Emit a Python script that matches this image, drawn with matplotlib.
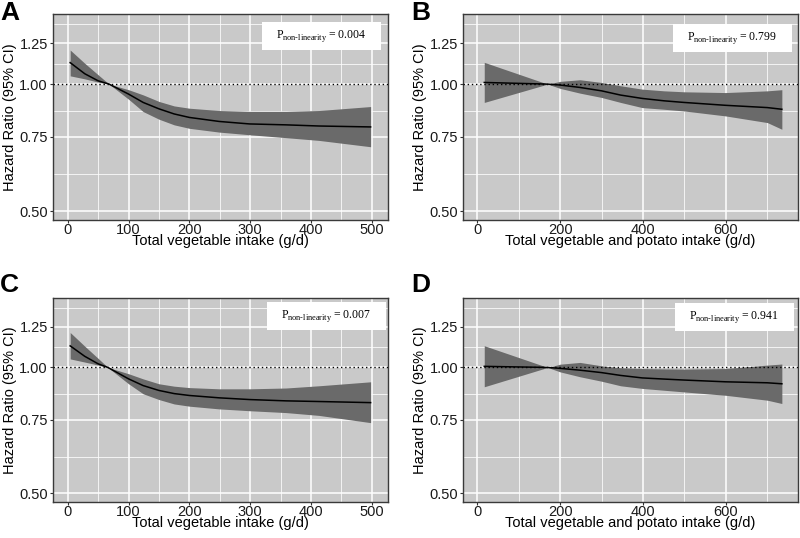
import numpy as np
import matplotlib.pyplot as plt
from matplotlib.patches import Rectangle
from matplotlib.ticker import FixedLocator, NullFormatter

plt.rcParams['font.family'] = ['Liberation Sans', 'DejaVu Sans']
plt.rcParams['mathtext.fontset'] = 'custom'
plt.rcParams['mathtext.rm'] = 'Liberation Serif'

# panel A: total vegetable intake
veg_x = [4, 28, 50, 68, 100, 124, 150, 175, 200, 249, 299, 359, 413, 498]
a_hr = [1.124, 1.058, 1.018, 1.0, 0.947, 0.905, 0.874, 0.850, 0.834, 0.816, 0.805, 0.801, 0.796, 0.792]
a_hi = [1.204, 1.12, 1.052, 1.0, 0.970, 0.943, 0.910, 0.888, 0.877, 0.866, 0.862, 0.862, 0.866, 0.885]
a_lo = [1.046, 1.029, 1.011, 1.0, 0.921, 0.861, 0.826, 0.801, 0.786, 0.770, 0.759, 0.747, 0.736, 0.711]

# panel C: total vegetable intake (second model)
veg_x2 = [4, 28, 50, 66, 100, 124, 150, 175, 200, 249, 299, 359, 413, 498]
c_hr = [1.126, 1.063, 1.020, 1.0, 0.939, 0.905, 0.881, 0.866, 0.857, 0.846, 0.838, 0.832, 0.829, 0.824]
c_hi = [1.212, 1.124, 1.051, 1.0, 0.966, 0.939, 0.914, 0.902, 0.895, 0.889, 0.889, 0.893, 0.904, 0.924]
c_lo = [1.048, 1.030, 1.013, 1.0, 0.914, 0.865, 0.838, 0.818, 0.808, 0.796, 0.788, 0.780, 0.768, 0.738]

# panel B: vegetable and potato intake
pot_x = [17, 170, 200, 248, 300, 346, 398, 451, 499, 599, 700, 735]
b_hr = [1.009, 1.0, 0.995, 0.982, 0.964, 0.942, 0.925, 0.913, 0.905, 0.891, 0.880, 0.872]
b_hi = [1.126, 1.0, 1.015, 1.024, 1.009, 0.991, 0.973, 0.964, 0.959, 0.955, 0.964, 0.970]
b_lo = [0.905, 1.0, 0.977, 0.952, 0.930, 0.905, 0.880, 0.872, 0.864, 0.841, 0.811, 0.782]

# panel D: vegetable and potato intake (second model)
d_hr = [1.006, 1.0, 0.995, 0.985, 0.972, 0.957, 0.944, 0.938, 0.933, 0.924, 0.919, 0.914]
d_hi = [1.127, 1.0, 1.018, 1.028, 1.009, 0.998, 0.994, 0.992, 0.991, 0.994, 1.013, 1.019]
d_lo = [0.899, 1.0, 0.976, 0.950, 0.927, 0.904, 0.891, 0.882, 0.874, 0.858, 0.835, 0.820]

panels = [
    ("A", veg_x, a_hr, a_hi, a_lo, "0.004", "Total vegetable intake (g/d)"),
    ("B", pot_x, b_hr, b_hi, b_lo, "0.799", "Total vegetable and potato intake (g/d)"),
    ("C", veg_x2, c_hr, c_hi, c_lo, "0.007", "Total vegetable intake (g/d)"),
    ("D", pot_x, d_hr, d_hi, d_lo, "0.941", "Total vegetable and potato intake (g/d)"),
]

# axes boxes in figure fraction (left, bottom, width, height)
boxes = [
    (0.066, 0.591, 0.419, 0.383),
    (0.579, 0.591, 0.418, 0.383),
    (0.066, 0.067, 0.419, 0.379),
    (0.579, 0.067, 0.418, 0.379),
]
label_pos = [(0.0, 0.999), (0.514, 0.999), (0.0, 0.493), (0.514, 0.493)]
pbox_center = [(0.801, 0.893), (0.805, 0.883), (0.816, 0.914), (0.81, 0.907)]

fig = plt.figure(figsize=(8, 5.38), dpi=100)

for i, (letter, x, hr, hi, lo, pval, xlab) in enumerate(panels):
    ax = fig.add_axes(boxes[i])
    ax.set_facecolor('#c9c9c9')
    ax.set_yscale('log')

    if letter in ("A", "C"):
        ax.set_xlim(-24.6, 526.6)
        xmaj = [0, 100, 200, 300, 400, 500]
        xmin = [50, 150, 250, 350, 450]
    else:
        ax.set_xlim(-33.8, 773)
        xmaj = [0, 200, 400, 600]
        xmin = [100, 300, 500, 700]
    ax.set_ylim(0.477, 1.465)

    ax.xaxis.set_major_locator(FixedLocator(xmaj))
    ax.xaxis.set_minor_locator(FixedLocator(xmin))
    ax.yaxis.set_major_locator(FixedLocator([0.5, 0.75, 1.0, 1.25]))
    ax.yaxis.set_minor_locator(FixedLocator([0.612, 0.866, 1.118, 1.39]))
    ax.yaxis.set_major_formatter(plt.FuncFormatter(lambda v, p: f"{v:.2f}"))
    ax.yaxis.set_minor_formatter(NullFormatter())

    ax.grid(which='major', color='white', linewidth=1.1)
    ax.grid(which='minor', color='white', linewidth=0.55)
    ax.set_axisbelow(True)

    ax.fill_between(x, lo, hi, color='#6a6a6a', linewidth=0, zorder=2)
    ax.plot(x, hr, color='black', linewidth=1.1, zorder=3)
    ax.axhline(1.0, color='black', linestyle=(0, (1, 2)), linewidth=1.0, zorder=4)

    for s in ax.spines.values():
        s.set_color('#3a3a3a')
        s.set_linewidth(1.0)
    ax.tick_params(which='major', length=2, width=0.8, color='#333333',
                   labelsize=10.5, labelcolor='#1a1a1a')
    ax.tick_params(axis='x', which='major', pad=0)
    ax.tick_params(axis='y', which='major', pad=1.5)
    ax.tick_params(which='minor', length=0)

    ax.set_xlabel(xlab, fontsize=10.5)
    ax.xaxis.set_label_coords(0.5, -0.07)
    ax.set_ylabel("Hazard Ratio (95% CI)", fontsize=10.5)
    ax.yaxis.set_label_coords(-0.107, 0.5)

    # p-value box
    cx, cy = pbox_center[i]
    w, h = 119 / 800 / boxes[i][2], 28 / 538 / boxes[i][3]
    ax.add_patch(Rectangle((cx - w / 2, cy - h / 2), w, h, transform=ax.transAxes,
                           facecolor='white', edgecolor='none', zorder=5))
    ax.text(cx, cy, r"$\mathrm{P}_{\mathrm{non\text{-}linearity}}$" + " = " + pval,
            transform=ax.transAxes, ha='center', va='center', fontsize=8.5,
            family='Liberation Serif', zorder=6)

    fig.text(label_pos[i][0], label_pos[i][1], letter, fontsize=19,
             fontweight='bold', ha='left', va='top')

fig.savefig('out.png', dpi=100)
